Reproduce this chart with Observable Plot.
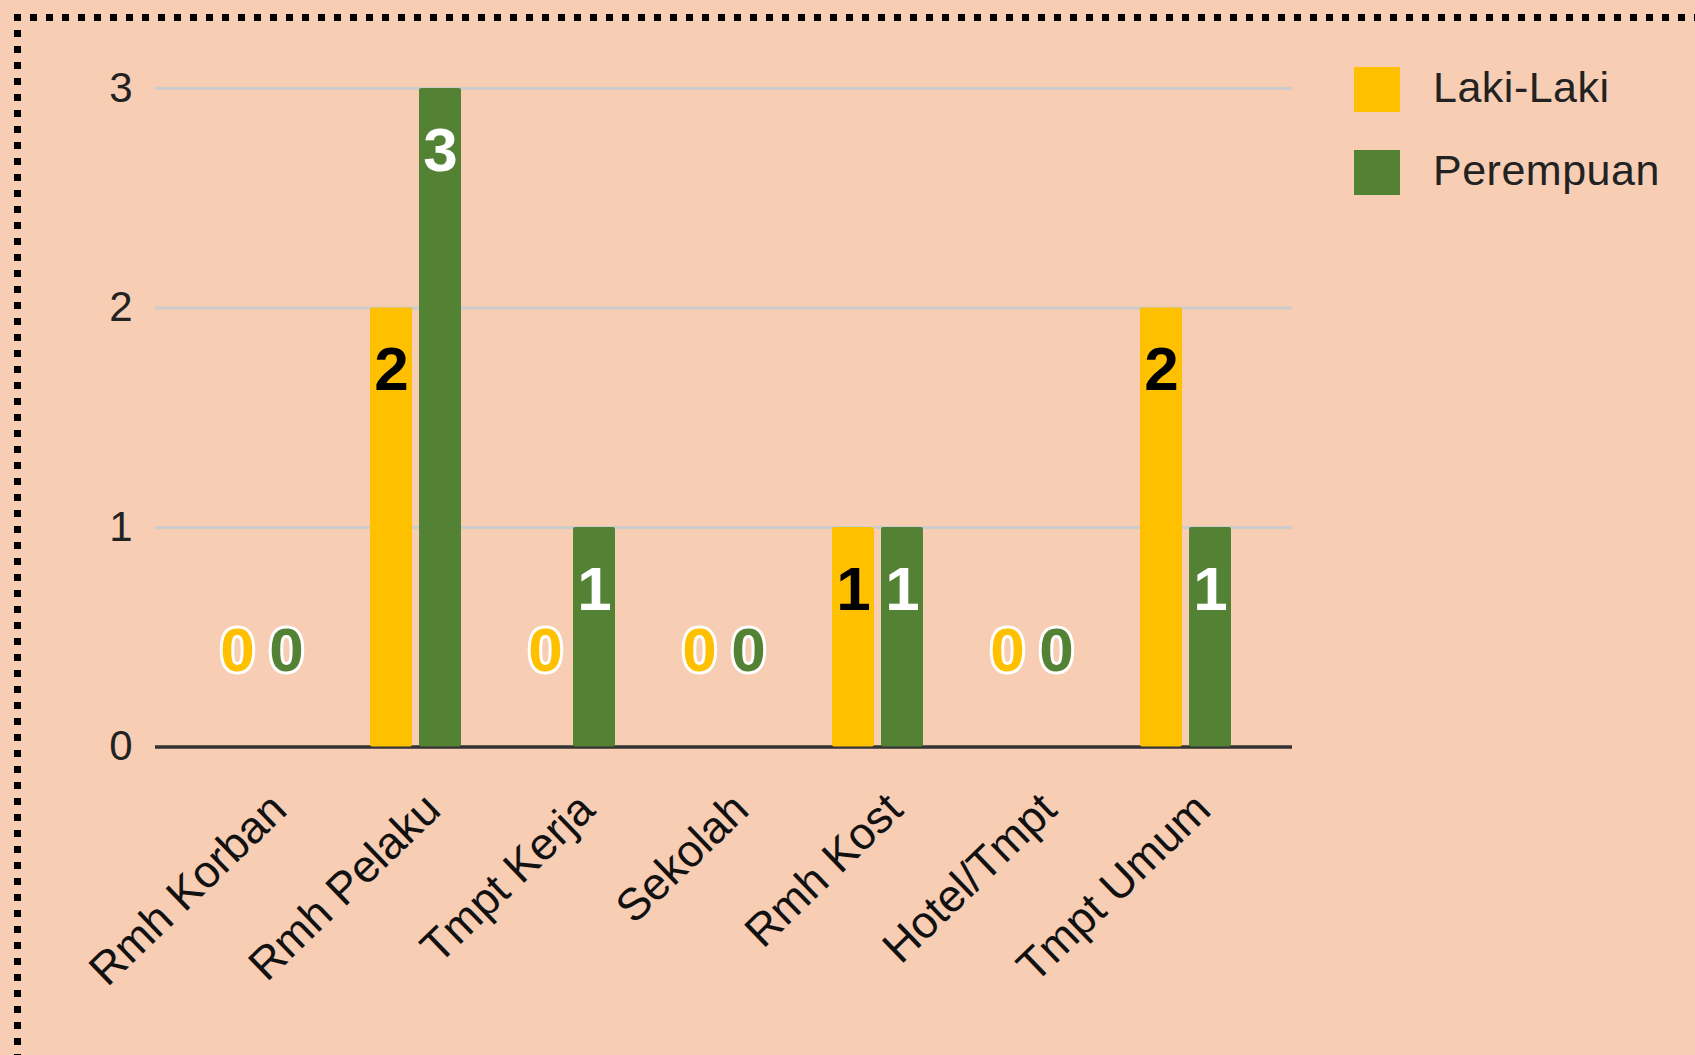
<!DOCTYPE html>
<html>
<head>
<meta charset="utf-8">
<script src="https://cdn.jsdelivr.net/npm/d3@7"></script>
<script src="https://cdn.jsdelivr.net/npm/@observablehq/plot@0.6"></script>
<style>
  html, body { margin: 0; padding: 0; background: #F7CDB4; overflow: hidden; }
  #wrap { position: relative; width: 1695px; height: 1055px; }
  #chart { position: absolute; left: 0; top: 0; }
  .dots-top { position: absolute; left: 14px; top: 14px; width: 1700px; height: 7px;
    background: repeating-linear-gradient(to right, #000 0 7px, transparent 7px 16px); }
  .dots-left { position: absolute; left: 14px; top: 14px; width: 7px; height: 1100px;
    background: repeating-linear-gradient(to bottom, #000 0 7px, transparent 7px 16px); }
  .legend-item { position: absolute; font-family: "Liberation Sans", Arial, sans-serif; font-size: 43px; line-height: 43px; color: #222; white-space: nowrap; letter-spacing: 0.5px; }
  .swatch { position: absolute; width: 46px; height: 45px; }
</style>
</head>
<body>
<div id="wrap">
  <div class="dots-top"></div>
  <div class="dots-left"></div>
  <div id="chart"></div>
  <div id="legend"></div>
</div>
<script>
const categories = ["Rmh Korban", "Rmh Pelaku", "Tmpt Kerja", "Sekolah", "Rmh Kost", "Hotel/Tmpt", "Tmpt Umum"];
const seriesNames = ["Laki-Laki", "Perempuan"];
const lakiLaki = [0, 2, 0, 0, 1, 0, 2];
const perempuan = [0, 3, 1, 0, 1, 0, 1];
const yTicks = [0, 1, 2, 3];
const colors = ["#FFC000", "#548235"];
const labelColors = ["#000000", "#FFFFFF"];

const rowsL = categories.map((c, i) => ({cat: c, value: lakiLaki[i]}));
const rowsP = categories.map((c, i) => ({cat: c, value: perempuan[i]}));

const chart = Plot.plot({
  width: 1695,
  height: 1055,
  marginTop: 88,
  marginBottom: 308.5,
  marginLeft: 155,
  marginRight: 403,
  style: {background: "transparent", fontFamily: "'Liberation Sans', Arial, sans-serif", fontSize: "42px", color: "#222", overflow: "visible"},
  x: {domain: categories, axis: null, paddingInner: 0.4106, paddingOuter: 0.3873},
  y: {domain: [0, 3], ticks: yTicks, tickFormat: d3.format("d"), tickSize: 0, tickPadding: 23, label: null},
  marks: [
    Plot.ruleY(yTicks.filter(d => d > 0), {stroke: "#cccccc", strokeWidth: 3}),
    Plot.ruleY([0], {stroke: "#333333", strokeWidth: 3.5}),
    Plot.barY(rowsL, {x: "cat", y: "value", fill: colors[0], insetRight: 49, rx: 2}),
    Plot.barY(rowsP, {x: "cat", y: "value", fill: colors[1], insetLeft: 49, rx: 2}),
    Plot.text(rowsL.filter(d => d.value > 0), {x: "cat", y: "value", text: d => String(d.value), dx: -24.5, dy: 38, lineAnchor: "top", fill: labelColors[0], fontSize: 62, fontWeight: "bold"}),
    Plot.text(rowsP.filter(d => d.value > 0), {x: "cat", y: "value", text: d => String(d.value), dx: 24.5, dy: 38, lineAnchor: "top", fill: labelColors[1], fontSize: 62, fontWeight: "bold"}),
    Plot.text(rowsL.filter(d => d.value === 0), {x: "cat", y: "value", text: d => String(d.value), dx: -24.5, dy: -120, lineAnchor: "top", fill: colors[0], stroke: "#ffffff", strokeWidth: 6, paintOrder: "stroke", fontSize: 62, fontWeight: "bold"}),
    Plot.text(rowsP.filter(d => d.value === 0), {x: "cat", y: "value", text: d => String(d.value), dx: 24.5, dy: -120, lineAnchor: "top", fill: colors[1], stroke: "#ffffff", strokeWidth: 6, paintOrder: "stroke", fontSize: 62, fontWeight: "bold"}),
    Plot.text(categories, {x: d => d, frameAnchor: "bottom", text: d => d, rotate: -44, textAnchor: "end", lineAnchor: "middle", dx: 17, dy: 55, fontSize: 45, fill: "#111"})
  ]
});
document.getElementById("chart").appendChild(chart);

// legend
const legend = document.getElementById("legend");
const legendTops = [67, 150];
seriesNames.forEach((name, i) => {
  const sw = document.createElement("div");
  sw.className = "swatch";
  sw.style.left = "1354px";
  sw.style.top = legendTops[i] + "px";
  sw.style.background = colors[i];
  legend.appendChild(sw);
  const t = document.createElement("div");
  t.className = "legend-item";
  t.style.left = "1433px";
  t.style.top = (legendTops[i] - 1.5) + "px";
  t.textContent = name;
  legend.appendChild(t);
});
</script>
</body>
</html>
